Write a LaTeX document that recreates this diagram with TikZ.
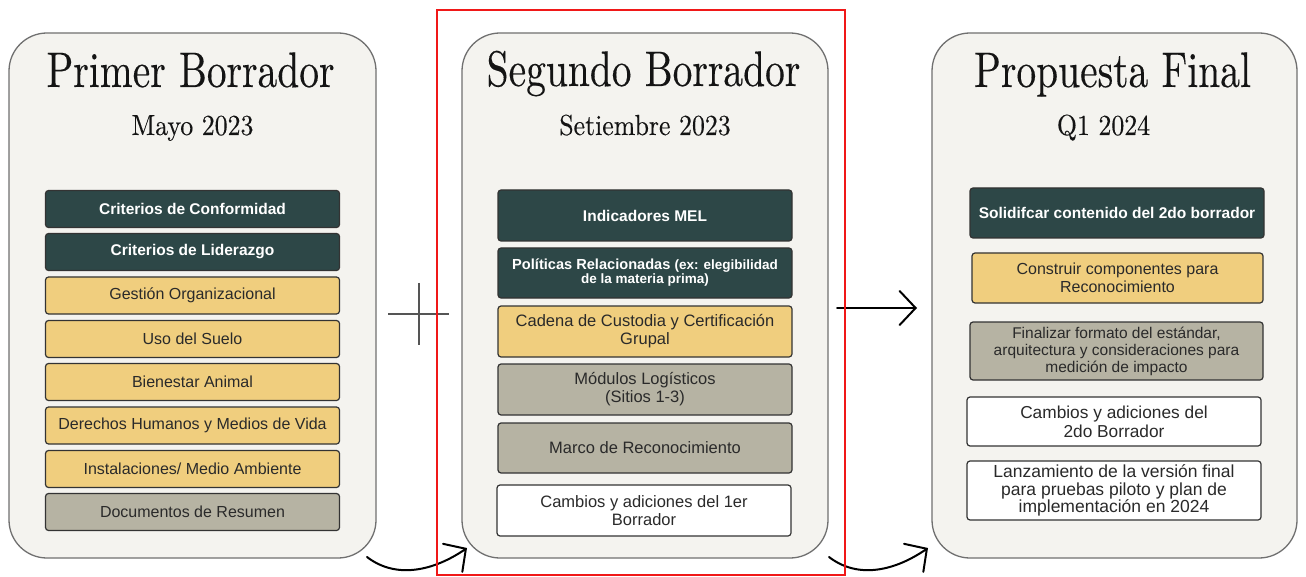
\documentclass[tikz,border=0pt]{standalone}
\usepackage{fontspec}
\setsansfont{Liberation Sans}
\newfontfamily\ttlfont[FakeBold=0.25]{lmroman10-regular.otf}
\usetikzlibrary{arrows.meta}
\definecolor{cteal}{HTML}{2D4747}
\definecolor{cyel}{HTML}{F0CE7E}
\definecolor{cgry}{HTML}{B6B3A3}
\definecolor{cpanel}{HTML}{F4F3EF}
\definecolor{cpline}{HTML}{707070}
\definecolor{cbline}{HTML}{333333}
\definecolor{ctxt}{HTML}{2A2A2A}
\definecolor{cttl}{HTML}{141414}
\definecolor{cplus}{HTML}{555555}
\definecolor{cred}{HTML}{F01818}
\newcommand\ttlbox[1]{\scalebox{0.79}[1]{#1}}
\newcommand\subbox[1]{\scalebox{0.89}[1]{#1}}
\begin{document}
\begin{tikzpicture}[x=1pt,y=-1pt,
  panel/.style={draw=cpline, line width=1.3pt, fill=cpanel, rounded corners=38pt, inner sep=0pt},
  ttl/.style={anchor=base, inner sep=0pt, text=cttl, font=\ttlfont\fontsize{50}{54}\selectfont},
  subttl/.style={anchor=base, inner sep=0pt, text=cttl, font=\ttlfont\fontsize{29}{32}\selectfont},
  box/.style={draw=cbline, line width=1.2pt, rounded corners=3pt, minimum width=294pt, inner sep=0pt, align=center, text=ctxt, font=\sffamily\fontsize{16}{18}\selectfont},
  bdark/.style={box, fill=cteal, text=white, font=\sffamily\bfseries\fontsize{15.5}{18}\selectfont},
  byel/.style={box, fill=cyel},
  bgry/.style={box, fill=cgry},
  bwht/.style={box, fill=white},
  conn/.style={draw=black, line width=2pt, line cap=round, -{Straight Barb[length=16pt,width=34pt,line cap=round]}},
  plusline/.style={draw=cplus, line width=2pt}
]
\useasboundingbox (0,0) rectangle (1306,577);
\fill[white] (0,0) rectangle (1306,577);

% panels
\node[panel, minimum width=367pt, minimum height=525pt] (p1) at (192.5,295.5) {};
\node[panel, minimum width=366pt, minimum height=525pt] (p2) at (645,295.5) {};
\node[panel, minimum width=365pt, minimum height=525pt] (p3) at (1114.5,295.5) {};

% titles
\node[ttl] (t1) at (190.5,87) {\ttlbox{Primer Borrador}};
\node[subttl] (s1) at (192.5,135) {\subbox{Mayo 2023}};
\node[ttl] (t2) at (643.5,86) {\ttlbox{Segundo Borrador}};
\node[subttl] (s2) at (645,135) {\subbox{Setiembre 2023}};
\node[ttl] (t3) at (1112.5,87) {\ttlbox{Propuesta Final}};
\node[subttl] (s3) at (1103.5,135) {\subbox{Q1 2024}};

% panel 1 items
\node[bdark, minimum height=37pt] (a1) at (192.5,209) {Criterios de Conformidad};
\node[bdark, minimum height=37pt] (a2) at (192.5,252) {Criterios de Liderazgo};
\node[byel, minimum height=37pt] (a3) at (192.5,295.5) {Gestión Organizacional};
\node[byel, minimum height=37pt] (a4) at (192.5,339) {Uso del Suelo};
\node[byel, minimum height=37pt] (a5) at (192.5,382) {Bienestar Animal};
\node[byel, minimum height=37pt] (a6) at (192.5,425.5) {Derechos Humanos y Medios de Vida};
\node[byel, minimum height=37pt] (a7) at (192.5,469) {Instalaciones/ Medio Ambiente};
\node[bgry, minimum height=37pt] (a8) at (192.5,512) {Documentos de Resumen};

% panel 2 items
\node[bdark, minimum height=51pt] (b1) at (645,215.5) {Indicadores MEL};
\node[bdark, minimum height=50pt, font=\sffamily\bfseries\fontsize{14.6}{15}\selectfont] (b2) at (645,273)
  {Políticas Relacionadas {\fontsize{13.5}{15}\selectfont (ex: elegibilidad}\\[-1pt]{\fontsize{13.5}{15}\selectfont de la materia prima)}};
\node[byel, minimum height=51pt, font=\sffamily\fontsize{16.5}{18}\selectfont] (b3) at (645,331.5) {Cadena de Custodia y Certificación\\Grupal};
\node[bgry, minimum height=51pt, font=\sffamily\fontsize{16.5}{18}\selectfont] (b4) at (645,389.5) {Módulos Logísticos\\(Sitios 1-3)};
\node[bgry, minimum height=50pt, font=\sffamily\fontsize{16.5}{18}\selectfont] (b5) at (645,448) {Marco de Reconocimiento};
\node[bwht, minimum height=51pt, font=\sffamily\fontsize{16.5}{18}\selectfont] (b6) at (644,510.5) {Cambios y adiciones del 1er\\Borrador};

% panel 3 items
\node[bdark, minimum height=50pt] (c1) at (1117,213) {Solidifcar contenido del 2do borrador};
\node[byel, minimum width=291pt, minimum height=50pt] (c2) at (1117.5,278) {Construir componentes para\\Reconocimiento};
\node[bgry, minimum width=293pt, minimum height=58pt, font=\sffamily\fontsize{15.5}{17}\selectfont] (c3) at (1116.5,351) {Finalizar formato del estándar,\\arquitectura y consideraciones para\\medición de impacto};
\node[bwht, minimum height=49pt, font=\sffamily\fontsize{17.3}{19}\selectfont] (c4) at (1114,421.5) {Cambios y adiciones del\\2do Borrador};
\node[bwht, minimum height=59pt, font=\sffamily\fontsize{17.5}{17.5}\selectfont] (c5) at (1114,490.5) {Lanzamiento de la versión final\\para pruebas piloto y plan de\\implementación en 2024};

% plus sign
\draw[plusline] (419,283) -- (419,345);
\draw[plusline] (388,314) -- (449,314);

% connectors
\coordinate (m1) at (837,308);
\coordinate (m2) at (917,308);
\draw[conn] (m1) -- (m2);

\coordinate (q1s) at (367,557);
\coordinate (q1e) at (467,548);
\draw[conn] (q1s) .. controls +(30,23) and +(-32,22) .. (q1e);

\coordinate (q2s) at (829,557);
\coordinate (q2e) at (928,548);
\draw[conn] (q2s) .. controls +(30,23) and +(-32,22) .. (q2e);

% red frame
\node[draw=cred, line width=2pt, minimum width=408pt, minimum height=565pt, inner sep=0pt] (frame) at (641,292.5) {};
\end{tikzpicture}
\end{document}
